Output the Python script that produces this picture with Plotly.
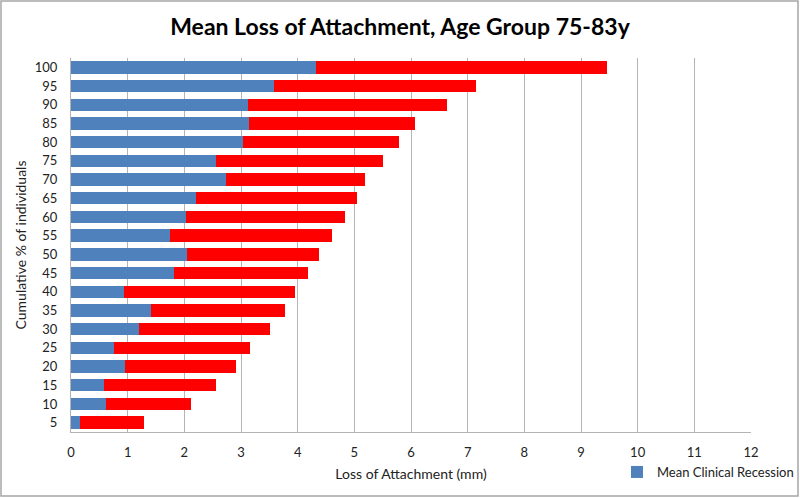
import plotly.graph_objects as go

categories = ["5", "10", "15", "20", "25", "30", "35", "40", "45", "50",
              "55", "60", "65", "70", "75", "80", "85", "90", "95", "100"]
recession = [0.16, 0.61, 0.58, 0.96, 0.75, 1.20, 1.42, 0.93, 1.82, 2.05,
             1.75, 2.03, 2.20, 2.74, 2.55, 3.03, 3.14, 3.13, 3.59, 4.32]
remaining_loss = [1.13, 1.51, 1.98, 1.96, 2.41, 2.32, 2.35, 3.03, 2.36, 2.32,
                  2.86, 2.81, 2.84, 2.45, 2.96, 2.76, 2.93, 3.50, 3.55, 5.14]
x_ticks = list(range(0, 13))

FONT = "Lato"
W, H = 800, 498
L, R, T, B = 71, 49, 58, 66
pw, ph = W - L - R, H - T - B

def px_x(p):
    return (p - L) / pw

def px_y(p):
    return (H - B - p) / ph

fig = go.Figure()
fig.add_trace(go.Bar(
    y=categories, x=recession, orientation="h",
    name="Mean Clinical Recession", marker=dict(color="#4f81bd", line=dict(width=0)),
))
fig.add_trace(go.Bar(
    y=categories, x=remaining_loss, orientation="h",
    name="Mean Loss of Attachment", showlegend=False,
    marker=dict(color="#ff0000", line=dict(width=0)),
))

fig.update_layout(
    width=W, height=H,
    margin=dict(l=L, r=R, t=T, b=B, autoexpand=False),
    barmode="stack", bargap=0.34,
    paper_bgcolor="white", plot_bgcolor="white",
    font=dict(family=FONT, size=13, color="#222222"),
    title=dict(text="<b>Mean Loss of Attachment, Age Group 75-83y</b>",
               x=px_x(400), xref="paper", xanchor="center", y=1 - 27 / H, yanchor="middle",
               font=dict(family=FONT, size=23, color="black")),
    xaxis=dict(range=[0, 12], tickvals=x_ticks, showgrid=True, gridcolor="#b4b4b4",
               gridwidth=1, zeroline=False, showline=True, linecolor="#b4b4b4",
               ticks="", ticklabelstandoff=8, tickfont=dict(size=13), automargin=False,
               title=dict(text="Loss of Attachment (mm)", standoff=10, font=dict(size=14))),
    yaxis=dict(type="category", showgrid=False, showline=True, linecolor="#b4b4b4",
               ticks="", ticklabelstandoff=10, tickfont=dict(size=13), automargin=False,
               title=dict(text="Cumulative % of individuals", standoff=4, font=dict(size=14))),
    legend=dict(orientation="h", x=px_x(617), y=px_y(472), xanchor="left", yanchor="middle",
                font=dict(size=13), bgcolor="rgba(0,0,0,0)", itemwidth=30),
    shapes=[dict(type="rect", xref="paper", yref="paper",
                 x0=px_x(1), x1=px_x(798), y0=px_y(496), y1=px_y(1),
                 line=dict(color="#a6a6a6", width=1.5), layer="below")],
)

fig.write_html("out.html", config={"displayModeBar": False},
               post_script="document.body.style.margin='0';")
